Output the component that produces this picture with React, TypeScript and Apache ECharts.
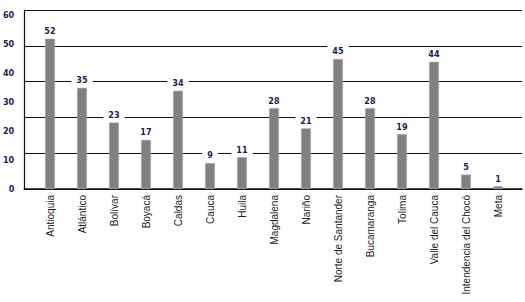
import React, { useEffect, useRef } from "react";
import * as echarts from "echarts";

const categories = [
  "Antioquia", "Atlántico", "Bolívar", "Boyacá", "Caldas", "Cauca", "Huila",
  "Magdalena", "Nariño", "Norte de Santander", "Bucamaranga", "Tolima",
  "Valle del Cauca", "Intendencia del Chocó", "Meta",
];
const values = [52, 35, 23, 17, 34, 9, 11, 28, 21, 45, 28, 19, 44, 5, 1];
const yMax = 61.9;
const yInterval = 10;

const navy = "#1e2152";
const condensed = "'DejaVu Sans Condensed', 'DejaVu Sans', sans-serif";

export default function App() {
  const ref = useRef<HTMLDivElement>(null);
  useEffect(() => {
    const chart = echarts.init(ref.current!, null, { renderer: "svg" });
    chart.setOption({
      animation: false,
      backgroundColor: "#ffffff",
      grid: [
        { left: 24, right: 3, top: 10, bottom: 113 },
        { left: 34, right: 11, top: 10, bottom: 113 },
      ],
      xAxis: [
        {
          gridIndex: 0,
          type: "value",
          min: 0,
          max: 1,
          axisLine: { show: true, lineStyle: { color: "#111", width: 1.5 } },
          axisTick: { show: false },
          axisLabel: { show: false },
          splitLine: { show: false },
        },
        {
          gridIndex: 1,
          type: "category",
          data: categories,
          axisLine: { show: false },
          axisTick: { show: false },
          axisLabel: {
            rotate: 90,
            margin: 6,
            interval: 0,
            fontSize: 10,
            color: "#222",
            fontFamily: "'Liberation Sans', Arial, sans-serif",
          },
        },
      ],
      yAxis: [
        {
          gridIndex: 0,
          type: "value",
          min: 0,
          max: yMax,
          interval: yInterval,
          axisLine: { show: true, lineStyle: { color: "#111", width: 1.2 } },
          axisTick: { show: false },
          splitLine: { show: false },
          axisLabel: {
            margin: 10,
            fontSize: 9,
            fontWeight: "bold",
            color: navy,
            fontFamily: condensed,
            showMaxLabel: false,
          },
        },
        {
          gridIndex: 0,
          type: "value",
          min: 0,
          max: 5,
          interval: 1,
          axisLine: { show: false },
          axisTick: { show: false },
          axisLabel: { show: false },
          splitLine: { show: true, lineStyle: { color: "#111", width: 1.2 } },
        },
        {
          gridIndex: 1,
          type: "value",
          min: 0,
          max: yMax,
          show: false,
          splitLine: { show: false },
        },
      ],
      series: [
        {
          type: "bar",
          xAxisIndex: 1,
          yAxisIndex: 2,
          data: values,
          barWidth: 10,
          itemStyle: { color: "#808083", borderColor: "#b4b4b6", borderWidth: 0.6 },
          label: {
            show: true,
            position: "top",
            distance: 2,
            fontSize: 9,
            fontWeight: "bold",
            color: navy,
            fontFamily: condensed,
            backgroundColor: "#ffffff",
            padding: [1, 5],
          },
        },
      ],
    });
    return () => chart.dispose();
  }, []);
  return (
    <div
      ref={ref}
      style={{ position: "absolute", left: 0, top: 0, width: 525, height: 302 }}
    />
  );
}
